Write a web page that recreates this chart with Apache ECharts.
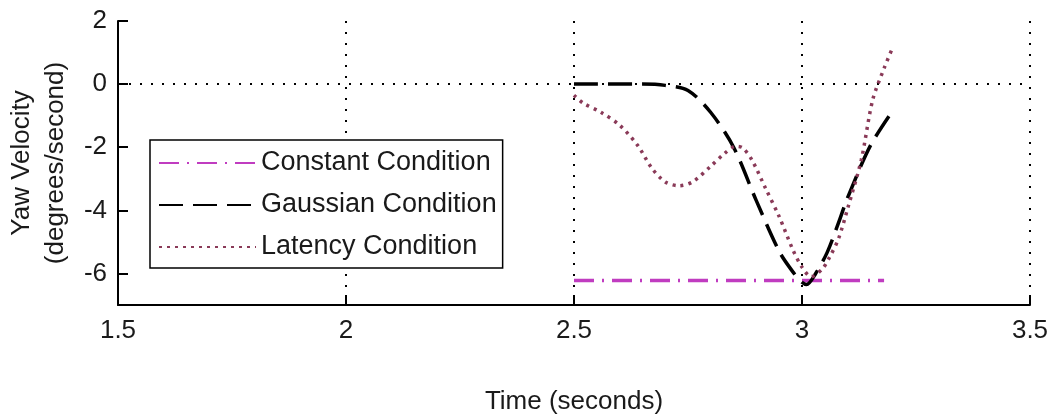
<!DOCTYPE html>
<html>
<head>
<meta charset="utf-8">
<script src="https://cdn.jsdelivr.net/npm/echarts@6/dist/echarts.min.js"></script>
<style>
html,body{margin:0;padding:0;background:#fff;}
#chart{width:1050px;height:414px;}
</style>
</head>
<body>
<div id="chart"></div>
<script>
// ---- data ----
const seriesNames = ["Constant Condition", "Gaussian Condition", "Latency Condition"];

const constantTime  = [2.5, 3.18];
const constantValue = [-6.22, -6.22];

const gaussTime  = [2.50, 2.55, 2.60, 2.65, 2.70, 2.75, 2.80, 2.85, 2.90, 2.95, 2.98, 3.00, 3.01, 3.03, 3.055, 3.08, 3.10, 3.15, 3.20];
const gaussValue = [0, 0, 0, 0, -0.04, -0.2, -0.9, -2.0, -3.7, -5.3, -5.95, -6.28, -6.35, -6.0, -5.34, -4.4, -3.6, -1.95, -0.82];

const latencyTime  = [2.50, 2.52, 2.56, 2.60, 2.64, 2.67, 2.70, 2.73, 2.76, 2.80, 2.83, 2.855, 2.87, 2.89, 2.92, 2.95, 2.98, 3.00, 3.02, 3.045, 3.06, 3.08, 3.10, 3.13, 3.155, 3.18, 3.20];
const latencyValue = [-0.35, -0.6, -0.9, -1.3, -1.95, -2.65, -3.1, -3.22, -3.1, -2.6, -2.2, -1.97, -2.02, -2.4, -3.3, -4.2, -5.25, -5.8, -6.1, -5.85, -5.5, -4.9, -3.95, -2.4, -0.5, 0.5, 1.2];

const xTickValues = [1.5, 2, 2.5, 3, 3.5];
const yTickValues = [2, 0, -2, -4, -6];

const xAxisTitle = "Time (seconds)";
const yAxisTitle = "Yaw Velocity\n(degrees/second)";

// ---- build ----
const pairs = (xs, ys) => xs.map((x, i) => [x, ys[i]]);
const FONT = "'Liberation Sans', Arial, sans-serif";
const TXT = "#1a1a1a";

const chart = echarts.init(document.getElementById('chart'), null, {renderer: 'canvas'});
chart.setOption({
  animation: false,
  backgroundColor: '#ffffff',
  textStyle: {fontFamily: FONT},
  grid: {left: 118, right: 20, top: 21, bottom: 109, containLabel: false, outerBoundsMode: 'none'},
  legend: {
    orient: 'vertical',
    left: 150, top: 140,
    padding: [8, 6, 6, 8],
    itemGap: 12,
    itemWidth: 97,
    itemHeight: 14,
    backgroundColor: '#ffffff',
    borderColor: '#000',
    borderWidth: 1.5,
    borderRadius: 0,
    data: seriesNames,
    itemStyle: {color: 'rgba(0,0,0,0)', borderWidth: 0, opacity: 0},
    textStyle: {fontSize: 27, color: TXT, fontFamily: FONT, lineHeight: 30}
  },
  xAxis: {
    type: 'value',
    min: xTickValues[0], max: xTickValues[xTickValues.length - 1], interval: 0.5,
    name: xAxisTitle, nameLocation: 'middle', nameGap: 84,
    nameTextStyle: {fontSize: 26, color: TXT, fontFamily: FONT},
    axisLine: {show: true, onZero: false, lineStyle: {color: '#000', width: 2}},
    axisTick: {show: true, inside: true, length: 10, lineStyle: {color: '#000', width: 2}},
    axisLabel: {fontSize: 26, color: TXT, margin: 13, fontFamily: FONT,
      formatter: v => String(v)},
    splitLine: {show: true, lineStyle: {color: '#000', width: 2, type: [2, 9]}}
  },
  yAxis: {
    type: 'value',
    min: -7, max: 2,
    name: yAxisTitle, nameLocation: 'middle', nameGap: 44, nameRotate: 90,
    nameTextStyle: {fontSize: 26, color: TXT, fontFamily: FONT, lineHeight: 34},
    axisLine: {show: true, onZero: false, lineStyle: {color: '#000', width: 2}},
    axisTick: {show: true, inside: true, length: 10, customValues: yTickValues, lineStyle: {color: '#000', width: 2}},
    axisLabel: {fontSize: 26, color: TXT, margin: 11, fontFamily: FONT, customValues: yTickValues},
    splitLine: {show: false}
  },
  series: [
    {
      name: seriesNames[0], type: 'line', symbol: 'none',
      data: pairs(constantTime, constantValue),
      lineStyle: {color: '#c03cc0', width: 3.5, type: [20, 8, 2, 8]},
      itemStyle: {color: '#c03cc0'},
      z: 3,
      markLine: {
        silent: true, symbol: 'none', label: {show: false},
        lineStyle: {color: '#000', width: 2, type: [2, 9]},
        data: [{yAxis: 0}]
      }
    },
    {
      name: seriesNames[1], type: 'line', symbol: 'none', smooth: 0.3,
      data: pairs(gaussTime, gaussValue),
      lineStyle: {color: '#000000', width: 3.5, type: [24, 10]},
      itemStyle: {color: '#000000'},
      z: 4
    },
    {
      name: seriesNames[2], type: 'line', symbol: 'none', smooth: 0.3,
      data: pairs(latencyTime, latencyValue),
      lineStyle: {color: '#8a3a58', width: 3.5, type: [3, 5]},
      itemStyle: {color: '#8a3a58'},
      z: 5
    }
  ]
});
</script>
</body>
</html>
